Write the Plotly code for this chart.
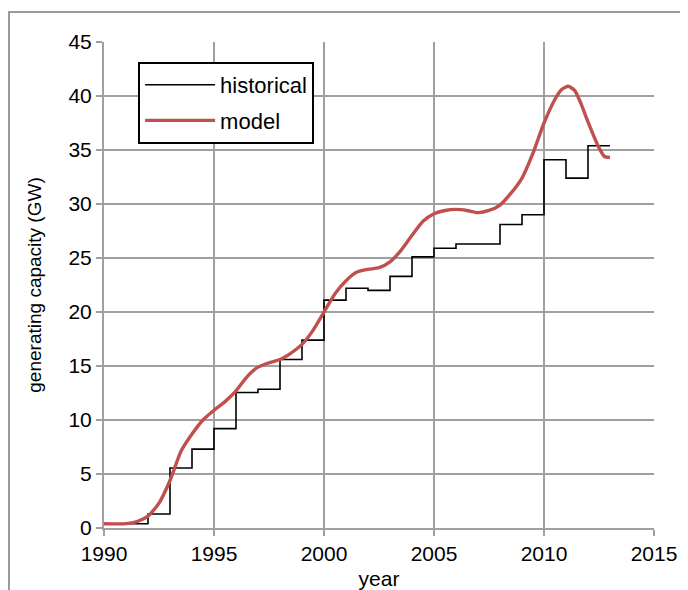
import plotly.graph_objects as go

# Historical generating capacity (GW), one value per year, held until next year
hist_years = [1990, 1991, 1992, 1993, 1994, 1995, 1996, 1997, 1998, 1999, 2000, 2001,
              2002, 2003, 2004, 2005, 2006, 2007, 2008, 2009, 2010, 2011, 2012, 2013]
hist_values = [0.4, 0.4, 1.3, 5.55, 7.3, 9.2, 12.55, 12.85, 15.6, 17.4, 21.1, 22.2,
               22.0, 23.3, 25.1, 25.9, 26.3, 26.3, 28.1, 29.0, 34.1, 32.4, 35.4, 35.4]

# Model curve
model_years = [1990, 1991, 1991.5, 1992, 1992.5, 1993, 1993.5, 1994, 1994.5, 1995, 1995.5,
               1996, 1996.5, 1997, 1997.5, 1998, 1998.5, 1999, 1999.5, 2000, 2000.5,
               2001, 2001.5, 2002, 2002.5, 2003, 2003.5, 2004, 2004.5, 2005, 2005.5,
               2006, 2006.5, 2007, 2007.5, 2008, 2008.5, 2009, 2009.5, 2010, 2010.5,
               2010.8, 2011.1, 2011.4, 2011.7, 2012, 2012.5, 2012.75, 2013]
model_values = [0.4, 0.4, 0.6, 1.1, 2.3, 4.4, 7.1, 8.7, 10.0, 10.9, 11.7,
                12.7, 14.0, 14.9, 15.3, 15.6, 16.2, 17.0, 18.3, 20.0, 21.7,
                22.9, 23.7, 23.95, 24.1, 24.65, 25.7, 27.1, 28.4, 29.1, 29.4,
                29.5, 29.4, 29.2, 29.4, 29.9, 31.0, 32.4, 34.7, 37.5, 39.7,
                40.6, 40.9, 40.5, 39.2, 37.6, 35.2, 34.4, 34.3]

x_ticks = [1990, 1995, 2000, 2005, 2010, 2015]
y_ticks = [0, 5, 10, 15, 20, 25, 30, 35, 40, 45]

FONT = "Liberation Sans, Arial, sans-serif"
GRID = "#a0a0a0"

fig = go.Figure()
fig.add_trace(go.Scatter(
    x=hist_years, y=hist_values, mode="lines", name="historical",
    line=dict(color="#000000", width=1.6, shape="hv"), legendgroup="h"))
fig.add_trace(go.Scatter(
    x=model_years, y=model_values, mode="lines", name="model",
    line=dict(color="#c0504d", width=3.4, shape="spline", smoothing=0.6), legendgroup="m"))

# the page body adds an 8px offset, so margins are reduced accordingly
fig.update_layout(
    width=688, height=590,
    margin=dict(l=96, r=42, t=34, b=70, autoexpand=False),
    paper_bgcolor="white", plot_bgcolor="white",
    font=dict(family=FONT, size=21, color="#000000"),
    showlegend=True,
    legend=dict(x=0.062, y=0.959, xanchor="left", yanchor="top",
                bordercolor="#000000", borderwidth=2, bgcolor="white",
                font=dict(family=FONT, size=22, color="#000000"),
                tracegroupgap=4, itemwidth=70),
    xaxis=dict(range=[1990, 2015], tickvals=x_ticks, ticktext=[str(v) for v in x_ticks],
               automargin=False,
               showgrid=True, gridcolor=GRID, gridwidth=2,
               showline=True, linecolor=GRID, linewidth=2,
               ticks="outside", ticklen=6, tickcolor=GRID, tickwidth=2,
               zeroline=False, tickfont=dict(size=21),
               title=dict(text="year", font=dict(size=21), standoff=7)),
    yaxis=dict(range=[0, 45], tickvals=y_ticks, ticktext=[str(v) for v in y_ticks],
               automargin=False,
               showgrid=True, gridcolor=GRID, gridwidth=2,
               showline=True, linecolor=GRID, linewidth=2,
               ticks="outside", ticklen=6, tickcolor=GRID, tickwidth=2,
               zeroline=False, tickfont=dict(size=21),
               title=dict(text="generating capacity (GW)", font=dict(size=19), standoff=22)),
    shapes=[dict(type="rect", xref="paper", yref="paper",
                 x0=-0.1727, y0=-1.0, x1=2.0, y1=1.0617,
                 line=dict(color="#9a9a9a", width=2), fillcolor="rgba(0,0,0,0)", layer="below")],
)

fig.write_html("out.html")
